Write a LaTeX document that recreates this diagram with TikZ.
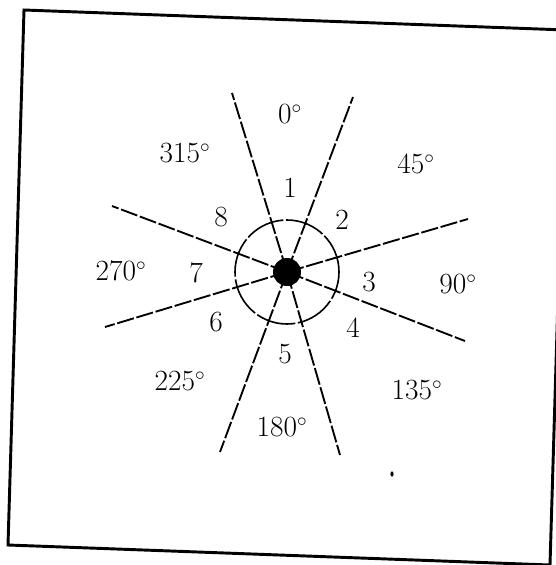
\documentclass[tikz,border=0pt]{standalone}
\begin{document}
\begin{tikzpicture}[x=0.75pt,y=-0.75pt,
  lbl/.style={font=\fontsize{22}{26}\selectfont, inner sep=0pt},
  ray/.style={line width=1.4pt, dash pattern=on 13pt off 2pt},
  ring/.style={line width=1.2pt, dash pattern=on 30pt off 2pt}]
\useasboundingbox (0,0) rectangle (556,565);
\clip (0,0) rectangle (556,565);
% frame
\draw[line width=2.2pt, line join=miter] (24,10) -- (566,30) -- (550,565) -- (8,545) -- cycle;
% centre
\coordinate (c) at (287,272);
\coordinate (e1) at (232,93);
\coordinate (e2) at (353,97);
\coordinate (e3) at (468,219);
\coordinate (e4) at (465,341);
\coordinate (e5) at (340,455);
\coordinate (e6) at (220,452);
\coordinate (e7) at (105,327);
\coordinate (e8) at (112,206);
\foreach \e in {e1,e2,e3,e4,e5,e6,e7,e8} \draw[ray] (c) -- (\e);
\draw[ring] (c) circle[radius=39pt];
\node[circle, fill=black, minimum size=21pt, inner sep=0pt] (dot) at (c) {};
% sector numbers
\node[lbl] (n1) at (290,188) {1};
\node[lbl] (n2) at (342,220) {2};
\node[lbl] (n3) at (369,282) {3};
\node[lbl] (n4) at (353,328) {4};
\node[lbl] (n5) at (285,354) {5};
\node[lbl] (n6) at (216,322) {6};
\node[lbl] (n7) at (196,273) {7};
\node[lbl] (n8) at (221,217) {8};
% angles
\node[lbl] (a0) at (290,114) {0$^\circ$};
\node[lbl] (a45) at (416,164) {45$^\circ$};
\node[lbl] (a90) at (458,284) {90$^\circ$};
\node[lbl] (a135) at (417,390) {135$^\circ$};
\node[lbl] (a180) at (282,427) {180$^\circ$};
\node[lbl] (a225) at (180,381) {225$^\circ$};
\node[lbl] (a270) at (121,271) {270$^\circ$};
\node[lbl] (a315) at (185,153) {315$^\circ$};
% speck
\fill (392,474) ellipse[x radius=1.2pt, y radius=2pt];
\end{tikzpicture}
\end{document}
